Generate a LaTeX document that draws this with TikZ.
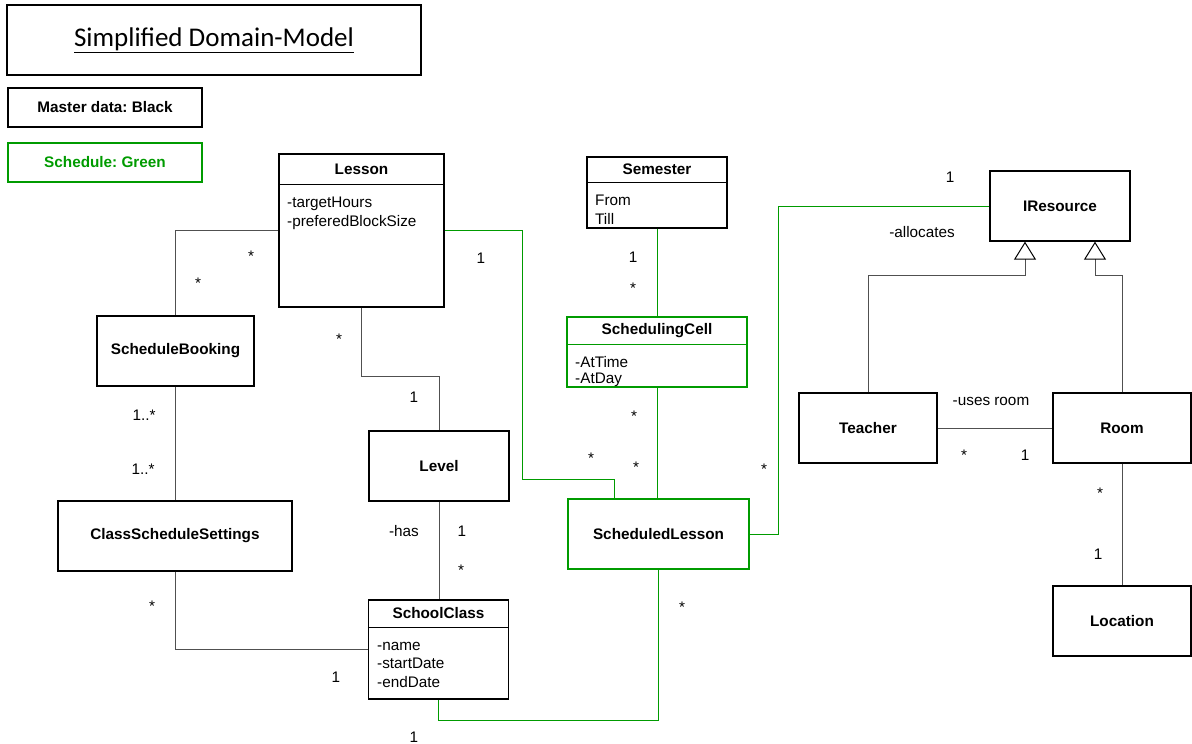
\documentclass[tikz,border=0pt]{standalone}
\usepackage{fontspec}
\setmainfont{Liberation Sans}
\newfontfamily\titlefont{Carlito}
\usetikzlibrary{arrows.meta}
\definecolor{schedgreen}{RGB}{0,155,0}
\definecolor{linegray}{RGB}{80,80,80}
\frenchspacing

\begin{document}
\begin{tikzpicture}[x=1pt,y=-1pt,
  every node/.style={font=\fontsize{15.3}{19}\selectfont},
  umlbox/.style={draw,line width=1.3pt,inner sep=0pt},
  hdr/.style={font=\fontsize{15.3}{19}\selectfont\bfseries},
  attr/.style={anchor=base west,inner sep=0pt},
  mult/.style={inner sep=0pt},
  assoc/.style={draw=linegray,line width=1pt},
  sched/.style={draw=schedgreen,line width=1pt},
  gen/.style={assoc,-{Triangle[open,length=18pt,width=22pt,color=black]}}]
\useasboundingbox (0,0) rectangle (1192,744);

\node[draw,line width=1.3pt,minimum width=414,minimum height=70,font=\titlefont\fontsize{27}{32}\selectfont] (title) at (214,40) {\underline{Simplified Domain-Model}};
\node[umlbox,hdr,minimum width=194,minimum height=39] (masterkey) at (105,107.5) {Master data: Black};
\node[umlbox,hdr,draw=schedgreen,text=schedgreen,minimum width=194,minimum height=39] (schedkey) at (105,162.5) {Schedule: Green};

\node[umlbox,minimum width=165,minimum height=153] (lesson) at (361.5,230.5) {};
\node[hdr] (lessonh) at (361.5,169.5) {Lesson};
\draw[line width=1.3pt] (lesson.north west) ++(0,31) -- ++(165,0);
\node[attr] (lessona) at (287,207) {-targetHours};
\node[attr] (lessonb) at (287,226) {-preferedBlockSize};

\node[umlbox,minimum width=140,minimum height=71] (semester) at (657,192.5) {};
\node[hdr] (semesterh) at (657,169) {Semester};
\draw[line width=1.3pt] (semester.north west) ++(0,26) -- ++(140,0);
\node[attr] (semestera) at (595,205) {From};
\node[attr] (semesterb) at (595,224) {Till};

\node[umlbox,draw=schedgreen,minimum width=180,minimum height=70] (cell) at (657,352) {};
\node[hdr] (cellh) at (657,331) {SchedulingCell};
\draw[schedgreen,line width=1.3pt] (cell.north west) ++(0,28) -- ++(180,0);
\node[attr] (cella) at (575,367) {-AtTime};
\node[attr] (cellb) at (575,383) {-AtDay};

\node[umlbox,minimum width=140,minimum height=99] (sc) at (438.5,649.5) {};
\node[hdr] (sch) at (438.5,613) {SchoolClass};
\draw[line width=1.3pt] (sc.north west) ++(0,28) -- ++(140,0);
\node[attr] (sca) at (377,650) {-name};
\node[attr] (scb) at (377,668) {-startDate};
\node[attr] (scc) at (377,687) {-endDate};

\node[umlbox,hdr,minimum width=157,minimum height=70] (booking) at (175.5,351) {ScheduleBooking};
\node[umlbox,hdr,minimum width=234,minimum height=70] (css) at (175,536) {ClassScheduleSettings};
\node[umlbox,hdr,minimum width=140,minimum height=70] (level) at (439,466) {Level};
\node[umlbox,hdr,draw=schedgreen,minimum width=181,minimum height=70] (sl) at (658.5,534) {ScheduledLesson};
\node[umlbox,hdr,minimum width=140,minimum height=70] (ires) at (1060,206) {IResource};
\node[umlbox,hdr,minimum width=138,minimum height=70] (teacher) at (868,428) {Teacher};
\node[umlbox,hdr,minimum width=138,minimum height=70] (room) at (1122,428) {Room};
\node[umlbox,hdr,minimum width=138,minimum height=70] (location) at (1122,621) {Location};

\draw[assoc] (lesson.west) -| (booking.north);
\draw[assoc] (lesson.south) -- ++(0,69) -| (level.north);
\draw[assoc] (booking.south) -- (booking.south |- css.north);
\draw[assoc] (css.south) |- (sc.west);
\draw[assoc] (level.south) -- (level.south |- sc.north);
\draw[assoc] (teacher.east) -- (room.west);
\draw[assoc] (room.south) -- (location.north);
\draw[gen] (teacher.north) -- ++(0,-117) -| ([xshift=-35pt]ires.south);
\draw[gen] (room.north) -- ++(0,-117) -| ([xshift=35pt]ires.south);

\draw[sched] (lesson.east) -- ++(78,0) -- ++(0,249) -| ([xshift=-44.5pt]sl.north);
\draw[sched] (semester.south) -- (cell.north);
\draw[sched] (cell.south) -- (cell.south |- sl.north);
\draw[sched] (sl.east) -- ++(29,0) |- (ires.west);
\draw[sched] (sl.south) -- ++(0,151) -| (sc.south);

\node[mult] (m1) at (251,256) {*};
\node[mult] (m2) at (198,283) {*};
\node[mult] (m3) at (339,339) {*};
\node[mult] (m4) at (414,397) {1};
\node[mult] (m5) at (481,258) {1};
\node[mult] (m6) at (633,257) {1};
\node[mult] (m7) at (633,288) {*};
\node[mult] (m8) at (634,416) {*};
\node[mult] (m9) at (591,458) {*};
\node[mult] (m10) at (636,467) {*};
\node[mult] (m11) at (764,469) {*};
\node[mult] (m12) at (950,177) {1};
\node[mult] (m13) at (922,232) {-allocates};
\node[mult] (m14) at (682,607) {*};
\node[mult] (m15) at (414,737) {1};
\node[mult] (m16) at (144,415) {1..*};
\node[mult] (m17) at (143,469) {1..*};
\node[mult] (m18) at (152,606) {*};
\node[mult] (m19) at (336,677) {1};
\node[mult] (m20) at (404,531) {-has};
\node[mult] (m21) at (462,531) {1};
\node[mult] (m22) at (461,570) {*};
\node[mult] (m23) at (991,401) {-uses room};
\node[mult] (m24) at (964,455) {*};
\node[mult] (m25) at (1025,455) {1};
\node[mult] (m26) at (1100,493) {*};
\node[mult] (m27) at (1098,554) {1};
\end{tikzpicture}
\end{document}
